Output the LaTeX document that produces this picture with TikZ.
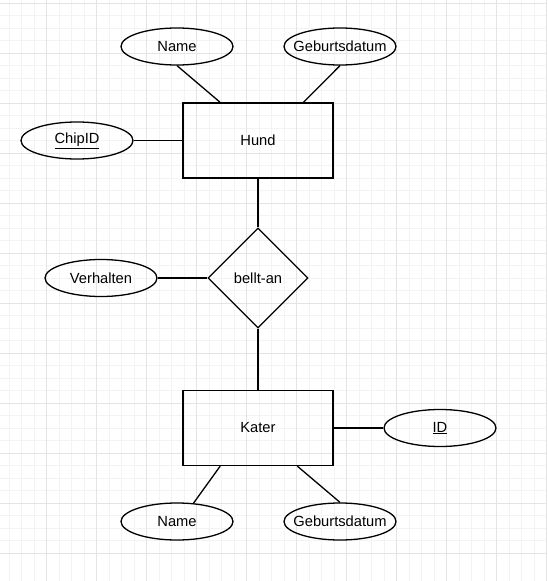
\documentclass[tikz,border=0pt]{standalone}
\usepackage{fontspec}
\setmainfont{Liberation Sans}
\usetikzlibrary{shapes.geometric,calc}
\definecolor{gridminor}{HTML}{F3F3F3}
\definecolor{gridmajor}{HTML}{E4E4E4}
\newcommand{\ctext}[1]{\makebox[0pt]{#1}}
\begin{document}
\begin{tikzpicture}[x=1pt,y=-1pt,
  every node/.style={font=\fontsize{14.7}{17}\selectfont, inner sep=0pt},
  entity/.style={draw, line width=1.3pt, minimum width=150pt, minimum height=75pt},
  attr/.style={draw, ellipse, line width=1.3pt, minimum width=112pt, minimum height=37pt},
  rel/.style={draw, diamond, line width=1.3pt, minimum width=100pt, minimum height=100pt},
  conn/.style={line width=1.3pt}]
\useasboundingbox (0,0) rectangle (547,581);
\fill[white] (0,0) rectangle (547,581);
% grid
\foreach \i in {0,...,44} {
  \draw[gridminor, line width=0.8pt] ({9.2+12.5*\i},0) -- ({9.2+12.5*\i},581);
  \draw[gridminor, line width=0.8pt] (0,{3.3+12.5*\i}) -- (547,{3.3+12.5*\i});
}
\foreach \i in {0,...,11} {
  \draw[gridmajor, line width=0.8pt] ({46.7+50*\i},0) -- ({46.7+50*\i},581);
  \draw[gridmajor, line width=0.8pt] (0,{3.3+50*\i}) -- (547,{3.3+50*\i});
}
% nodes
\node[entity] (hund) at (258,140.5) {Hund};
\node[entity] (kater) at (258,428) {Kater};
\node[rel] (bellt) at (258,278) {\ctext{bellt-an}};
\node[attr] (nameT) at (177,46.5) {\ctext{Name}};
\node[attr] (gebT) at (340,46.5) {\ctext{Geburtsdatum}};
\node[attr] (chip) at (77,140.5) {\ctext{\underline{ChipID}}};
\node[attr] (verh) at (101,278) {\ctext{Verhalten}};
\node[attr] (id) at (440,428) {\ctext{\underline{ID}}};
\node[attr] (nameB) at (177,521.5) {\ctext{Name}};
\node[attr] (gebB) at (340,521.5) {\ctext{Geburtsdatum}};
% connectors
\draw[conn] (nameT.south) -- ($(hund.north west)!0.25!(hund.north east)$);
\draw[conn] (gebT.south) -- ($(hund.north west)!0.8!(hund.north east)$);
\draw[conn] (chip.east) -- (hund.west);
\draw[conn] (hund.south) -- (bellt.north);
\draw[conn] (verh.east) -- (bellt.west);
\draw[conn] (bellt.south) -- (kater.north);
\draw[conn] (kater.east) -- (id.west);
\draw[conn] ($(kater.south west)!0.25!(kater.south east)$) -- (nameB.48);
\draw[conn] ($(kater.south west)!0.76!(kater.south east)$) -- (gebB.north);
\end{tikzpicture}
\end{document}
